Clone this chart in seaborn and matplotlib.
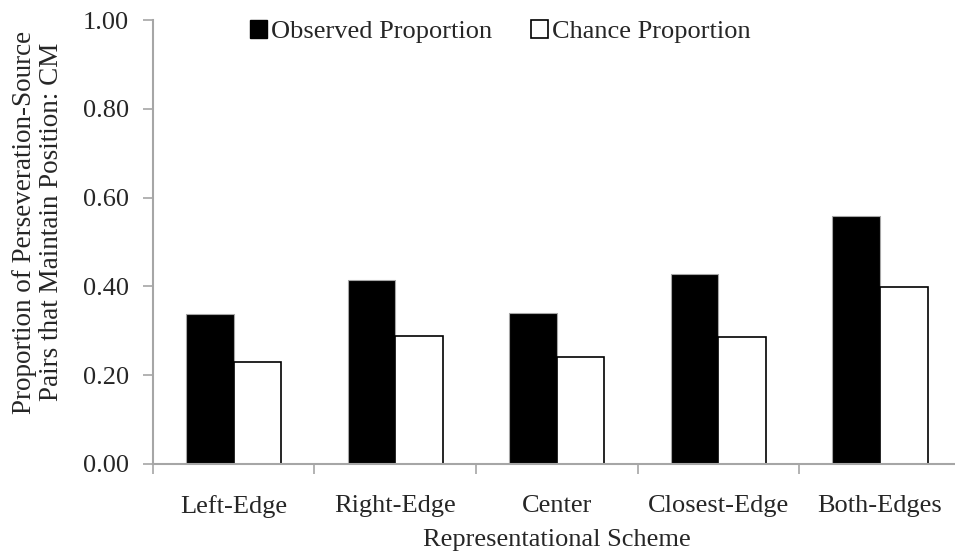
import pandas as pd
import seaborn as sns
import matplotlib.pyplot as plt
from matplotlib.patches import Patch

# Values
schemes = ['Left-Edge', 'Right-Edge', 'Center', 'Closest-Edge', 'Both-Edges']
observed = [0.338, 0.414, 0.341, 0.428, 0.559]
chance = [0.229, 0.289, 0.241, 0.285, 0.398]
series = ['Observed Proportion', 'Chance Proportion']

df = pd.DataFrame({
    'Scheme': schemes * 2,
    'Series': [series[0]] * 5 + [series[1]] * 5,
    'Value': observed + chance,
})

sns.set_style('white')
plt.rcParams['font.family'] = ['Liberation Serif', 'DejaVu Serif']
grey = '#a6a6a6'

fig = plt.figure(figsize=(9.55, 5.57), dpi=100)
ax = fig.add_axes([0.160, 0.167, 0.846, 0.797])

sns.barplot(data=df, x='Scheme', y='Value', hue='Series', order=schemes,
            hue_order=series, palette=['black', 'white'], width=0.59,
            edgecolor='black', linewidth=1.2, ax=ax, legend=False)
for bar in ax.patches[:5]:
    bar.set_edgecolor(grey)
    bar.set_linewidth(0.8)

ax.set_ylim(0, 1.0)
ax.set_xlim(-0.5, 4.5)
ax.set_yticks([0, 0.2, 0.4, 0.6, 0.8, 1.0])
ax.set_yticklabels([f'{v:.2f}' for v in [0, 0.2, 0.4, 0.6, 0.8, 1.0]])
ax.set_xticks([-0.5, 0.5, 1.5, 2.5, 3.5, 4.5], minor=True)
ax.tick_params(axis='x', which='major', length=0, pad=22, labelsize=19)
ax.tick_params(axis='x', which='minor', length=7, width=1.2, color=grey,
               direction='out', bottom=True)
ax.tick_params(axis='y', length=7, width=1.2, color=grey, direction='out',
               left=True, pad=10, labelsize=19)

for side in ['top', 'right']:
    ax.spines[side].set_visible(False)
for side in ['left', 'bottom']:
    ax.spines[side].set_color(grey)
    ax.spines[side].set_linewidth(1.5)

ax.set_xlabel('Representational Scheme', fontsize=19, labelpad=8)
ax.set_ylabel('Proportion of Perseveration-Source\nPairs that Maintain Position: CM',
              fontsize=19.5, labelpad=14, linespacing=1.1)
ax.yaxis.label.set_y(0.545)

handles = [Patch(facecolor='black', edgecolor='black'),
           Patch(facecolor='white', edgecolor='black', linewidth=1.2)]
ax.legend(handles, series, loc='upper center', bbox_to_anchor=(0.43, 1.053),
          ncol=2, frameon=False, fontsize=19, handlelength=0.65,
          handleheight=0.65, handletextpad=0.15, columnspacing=1.45)

fig.savefig('out.png', dpi=100)
